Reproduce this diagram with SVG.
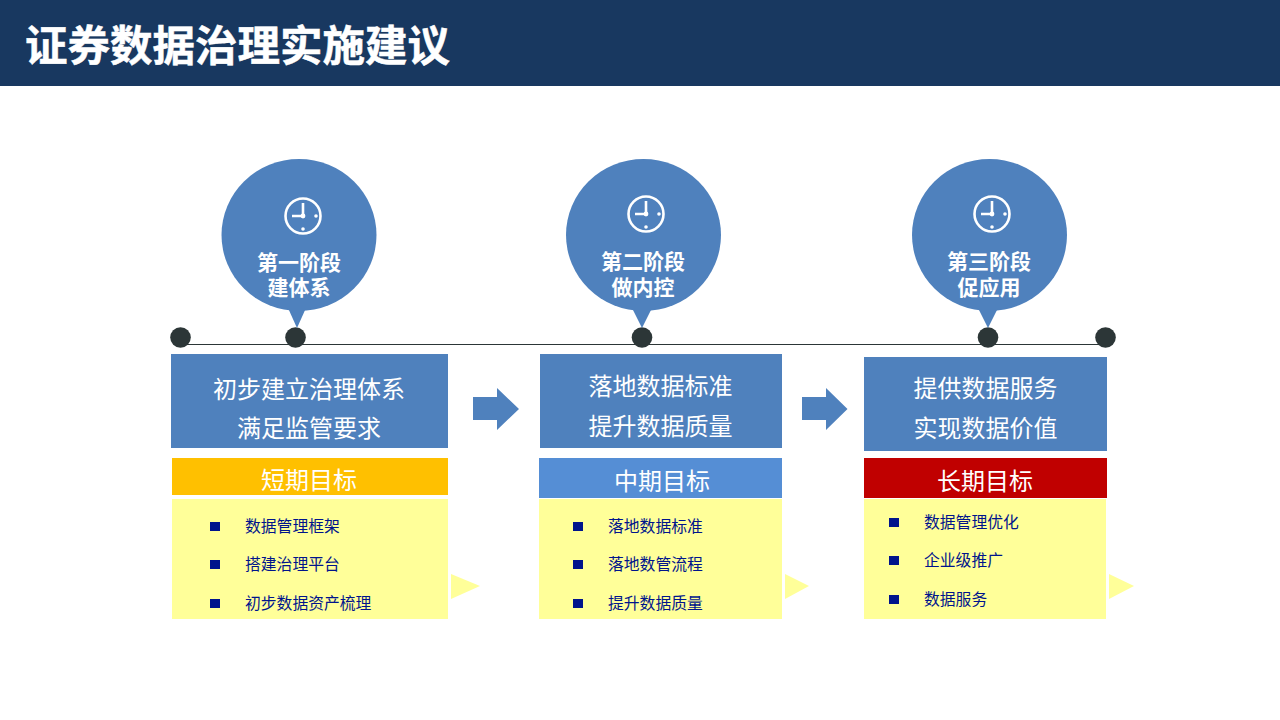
<svg xmlns="http://www.w3.org/2000/svg" width="1280" height="720" viewBox="0 0 1280 720">
<style>
text{font-family:"Noto Sans CJK SC","Noto Sans",sans-serif}
.w{fill:#fff;text-anchor:middle}
.b{font-size:24px}
.h{font-size:24px}
.p{font-size:21px;font-weight:700}
.l{font-size:15.800px;fill:#00148c}
.blue{fill:#4f81bd}
.y{fill:#ffff99}
.tri{fill:#ffff99}
.sq{fill:#00148c}
.dot{fill:#2c3637}
.ck{fill:none;stroke:#fff;stroke-width:2.600}
.ckf{fill:#fff}
</style>
<defs>
<g id="clock"><circle class="ck" cx="0" cy="0" r="17.500"/><path class="ck" d="M0-13V0H-11"/><circle class="ckf" cx="0" cy="0" r="2.400"/><circle class="ckf" cx="13" cy="0" r="1.800"/><circle class="ckf" cx="0" cy="13" r="1.800"/></g>
</defs>
<g id="header"><rect width="1280" height="86" fill="#183860"/><text x="25" y="61" font-size="42.500" font-weight="700" fill="#fff" stroke="#fff" stroke-width="0.500">证券数据治理实施建议</text></g>
<g id="connectors">
<path d="M180 344.500H1106" stroke="#2c3637" stroke-width="1.200" fill="none"/>
<path class="blue" d="M473 397H497V388L519 409L497 430V420H473Z"/>
<path class="blue" d="M802 397H826V388L847.500 409L826 430V420H802Z"/>
</g>
<g id="dots"><circle class="dot" cx="180.500" cy="337.500" r="10.300"/><circle class="dot" cx="295.500" cy="337.500" r="10.300"/><circle class="dot" cx="642" cy="337.500" r="10.300"/><circle class="dot" cx="988" cy="337.500" r="10.300"/><circle class="dot" cx="1105.500" cy="337.500" r="10.300"/></g>
<g id="stage1"><ellipse class="blue" cx="299" cy="235" rx="77.500" ry="76"/><path class="blue" d="M288 308L297 328L306 308Z"/><use href="#clock" x="303" y="216"/><text class="w p" x="299" y="270">第一阶段</text><text class="w p" x="299" y="295">建体系</text></g>
<g id="stage2"><ellipse class="blue" cx="643.500" cy="235" rx="77.500" ry="76"/><path class="blue" d="M632 308L642 328L652 308Z"/><use href="#clock" x="646" y="214"/><text class="w p" x="643" y="269">第二阶段</text><text class="w p" x="643" y="295">做内控</text></g>
<g id="stage3"><ellipse class="blue" cx="989.500" cy="235" rx="77.500" ry="76"/><path class="blue" d="M978 308L988 328L998 308Z"/><use href="#clock" x="992" y="214"/><text class="w p" x="989" y="269">第三阶段</text><text class="w p" x="989" y="295">促应用</text></g>
<g id="goal1"><rect class="blue" x="171" y="354" width="277" height="94"/><text class="w b" x="309" y="398">初步建立治理体系</text><text class="w b" x="309" y="437">满足监管要求</text></g>
<g id="goal2"><rect class="blue" x="540" y="354" width="242" height="94"/><text class="w b" x="660.500" y="395">落地数据标准</text><text class="w b" x="660.500" y="435">提升数据质量</text></g>
<g id="goal3"><rect class="blue" x="864" y="357" width="243" height="94"/><text class="w b" x="985.500" y="397">提供数据服务</text><text class="w b" x="985.500" y="437">实现数据价值</text></g>
<g id="short"><rect x="172" y="458" width="276" height="37" fill="#ffc000"/><text class="w h" x="309" y="489">短期目标</text><rect class="y" x="172" y="499" width="276" height="120"/><path class="tri" d="M451 574L480 586L451 599Z"/>
<rect class="sq" x="210" y="522" width="10" height="9"/><rect class="sq" x="210" y="560" width="10" height="9"/><rect class="sq" x="210" y="599" width="10" height="9"/>
<text class="l" x="245" y="532">数据管理框架</text><text class="l" x="245" y="570">搭建治理平台</text><text class="l" x="245" y="609">初步数据资产梳理</text></g>
<g id="mid"><rect x="539" y="458" width="243" height="40" fill="#558ed5"/><text class="w h" x="662" y="490">中期目标</text><rect class="y" x="539" y="499" width="243" height="120"/><path class="tri" d="M785 574L809 586L785 599Z"/>
<rect class="sq" x="573" y="522" width="10" height="9"/><rect class="sq" x="573" y="560" width="10" height="9"/><rect class="sq" x="573" y="599" width="10" height="9"/>
<text class="l" x="608" y="532">落地数据标准</text><text class="l" x="608" y="570">落地数管流程</text><text class="l" x="608" y="609">提升数据质量</text></g>
<g id="long"><rect x="864" y="458" width="243" height="40" fill="#c00000"/><text class="w h" x="985" y="490">长期目标</text><rect class="y" x="864" y="499" width="242" height="120"/><path class="tri" d="M1109 574L1134 586L1109 599Z"/>
<rect class="sq" x="889" y="518" width="10" height="9"/><rect class="sq" x="889" y="556" width="10" height="9"/><rect class="sq" x="889" y="595" width="10" height="9"/>
<text class="l" x="924" y="528">数据管理优化</text><text class="l" x="924" y="566">企业级推广</text><text class="l" x="924" y="605">数据服务</text></g>
</svg>
